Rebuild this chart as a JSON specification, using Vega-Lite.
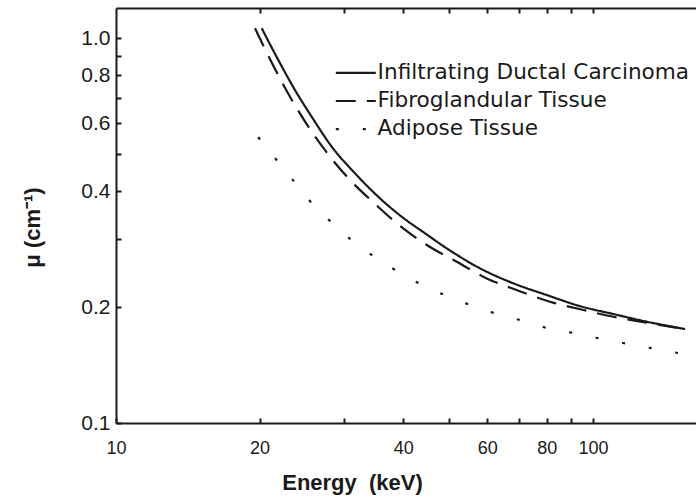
{
  "$schema": "https://vega.github.io/schema/vega-lite/v6.json",
  "width": 580,
  "height": 415,
  "autosize": "none",
  "padding": {"left": 116, "top": 8, "right": 0, "bottom": 74},
  "background": "white",
  "config": {"view": {"stroke": null}, "font": "Liberation Sans"},
  "data": {
    "values": [
      {"tissue": "Infiltrating Ductal Carcinoma", "energy": 20.21, "mu": 1.06},
      {"tissue": "Infiltrating Ductal Carcinoma", "energy": 21.89, "mu": 0.877},
      {"tissue": "Infiltrating Ductal Carcinoma", "energy": 23.73, "mu": 0.7325},
      {"tissue": "Infiltrating Ductal Carcinoma", "energy": 25.72, "mu": 0.6245},
      {"tissue": "Infiltrating Ductal Carcinoma", "energy": 28.33, "mu": 0.5222},
      {"tissue": "Infiltrating Ductal Carcinoma", "energy": 31.7, "mu": 0.4452},
      {"tissue": "Infiltrating Ductal Carcinoma", "energy": 35.46, "mu": 0.3871},
      {"tissue": "Infiltrating Ductal Carcinoma", "energy": 39.72, "mu": 0.3434},
      {"tissue": "Infiltrating Ductal Carcinoma", "energy": 44.45, "mu": 0.311},
      {"tissue": "Infiltrating Ductal Carcinoma", "energy": 49.35, "mu": 0.2843},
      {"tissue": "Infiltrating Ductal Carcinoma", "energy": 57.96, "mu": 0.2522},
      {"tissue": "Infiltrating Ductal Carcinoma", "energy": 68.07, "mu": 0.2306},
      {"tissue": "Infiltrating Ductal Carcinoma", "energy": 79.97, "mu": 0.215},
      {"tissue": "Infiltrating Ductal Carcinoma", "energy": 93.9, "mu": 0.2012},
      {"tissue": "Infiltrating Ductal Carcinoma", "energy": 110.3, "mu": 0.1919},
      {"tissue": "Infiltrating Ductal Carcinoma", "energy": 129.6, "mu": 0.1833},
      {"tissue": "Infiltrating Ductal Carcinoma", "energy": 155.9, "mu": 0.1754},
      {"tissue": "Fibroglandular Tissue", "energy": 19.56, "mu": 1.06},
      {"tissue": "Fibroglandular Tissue", "energy": 21.37, "mu": 0.8474},
      {"tissue": "Fibroglandular Tissue", "energy": 23.16, "mu": 0.7037},
      {"tissue": "Fibroglandular Tissue", "energy": 25.18, "mu": 0.5943},
      {"tissue": "Fibroglandular Tissue", "energy": 27.65, "mu": 0.5047},
      {"tissue": "Fibroglandular Tissue", "energy": 30.8, "mu": 0.4304},
      {"tissue": "Fibroglandular Tissue", "energy": 34.62, "mu": 0.3743},
      {"tissue": "Fibroglandular Tissue", "energy": 39.2, "mu": 0.3268},
      {"tissue": "Fibroglandular Tissue", "energy": 44.82, "mu": 0.29},
      {"tissue": "Fibroglandular Tissue", "energy": 51.8, "mu": 0.2624},
      {"tissue": "Fibroglandular Tissue", "energy": 59.86, "mu": 0.2375},
      {"tissue": "Fibroglandular Tissue", "energy": 69.18, "mu": 0.2215},
      {"tissue": "Fibroglandular Tissue", "energy": 81.27, "mu": 0.2066},
      {"tissue": "Fibroglandular Tissue", "energy": 95.43, "mu": 0.1966},
      {"tissue": "Fibroglandular Tissue", "energy": 110.3, "mu": 0.1888},
      {"tissue": "Fibroglandular Tissue", "energy": 131.7, "mu": 0.1816},
      {"tissue": "Fibroglandular Tissue", "energy": 152.2, "mu": 0.1762},
      {"tissue": "Adipose Tissue", "energy": 19.86, "mu": 0.553},
      {"tissue": "Adipose Tissue", "energy": 21.54, "mu": 0.488},
      {"tissue": "Adipose Tissue", "energy": 23.4, "mu": 0.43},
      {"tissue": "Adipose Tissue", "energy": 25.39, "mu": 0.3795},
      {"tissue": "Adipose Tissue", "energy": 27.8, "mu": 0.339},
      {"tissue": "Adipose Tissue", "energy": 30.64, "mu": 0.304},
      {"tissue": "Adipose Tissue", "energy": 34.1, "mu": 0.275},
      {"tissue": "Adipose Tissue", "energy": 37.89, "mu": 0.2527},
      {"tissue": "Adipose Tissue", "energy": 42.6, "mu": 0.2325},
      {"tissue": "Adipose Tissue", "energy": 47.77, "mu": 0.2176},
      {"tissue": "Adipose Tissue", "energy": 53.9, "mu": 0.205},
      {"tissue": "Adipose Tissue", "energy": 61.1, "mu": 0.1942},
      {"tissue": "Adipose Tissue", "energy": 69.3, "mu": 0.186},
      {"tissue": "Adipose Tissue", "energy": 78.6, "mu": 0.1776},
      {"tissue": "Adipose Tissue", "energy": 89.5, "mu": 0.172},
      {"tissue": "Adipose Tissue", "energy": 102.0, "mu": 0.1663},
      {"tissue": "Adipose Tissue", "energy": 115.6, "mu": 0.1614},
      {"tissue": "Adipose Tissue", "energy": 132.3, "mu": 0.1566},
      {"tissue": "Adipose Tissue", "energy": 150.7, "mu": 0.152}
    ]
  },
  "layer": [
    {
      "mark": {"type": "line", "strokeWidth": 2.2, "color": "#1a1a1a", "clip": true, "interpolate": "monotone"},
      "encoding": {
        "x": {
          "field": "energy", "type": "quantitative",
          "scale": {"type": "log", "domain": [10, 164.4], "nice": false},
          "axis": {
            "orient": "bottom",
            "values": [10, 20, 30, 40, 50, 60, 70, 80, 90, 100],
            "labelExpr": "indexof([10,20,40,60,80,100], datum.value) >= 0 ? datum.label : ''",
            "grid": false,
            "domainColor": "#1a1a1a", "domainWidth": 2,
            "tickColor": "#1a1a1a", "tickWidth": 2,
            "tickSize": -5,
            "labelFontSize": 18, "labelColor": "#1a1a1a", "labelPadding": 21,
            "labelFlush": false,
            "title": "Energy\u00a0\u00a0(keV)", "titleFontSize": 22, "titleFontWeight": "bold", "titleColor": "#1a1a1a",
            "titleX": 236, "titleY": 49, "titleBaseline": "top", "titleAlign": "center"
          }
        },
        "y": {
          "field": "mu", "type": "quantitative",
          "scale": {"type": "log", "domain": [0.1, 1.197], "nice": false},
          "axis": {
            "orient": "left",
            "values": [0.1, 0.2, 0.3, 0.4, 0.5, 0.6, 0.7, 0.8, 0.9, 1.0],
            "format": ".1f",
            "labelExpr": "indexof([0.1,0.2,0.4,0.6,0.8,1.0], datum.value) >= 0 ? datum.label : ''",
            "grid": false,
            "domainColor": "#1a1a1a", "domainWidth": 2,
            "tickColor": "#1a1a1a", "tickWidth": 2,
            "tickSize": -5,
            "labelFontSize": 21, "labelColor": "#1a1a1a", "labelPadding": 11,
            "labelFlush": false,
            "title": "μ (cm⁻¹)", "titleFontSize": 22, "titleFontWeight": "bold", "titleColor": "#1a1a1a",
            "titleX": -84, "titleY": 219, "titleBaseline": "middle", "titleAlign": "center", "titleAngle": 270
          }
        },
        "strokeDash": {
          "field": "tissue", "type": "nominal",
          "scale": {
            "domain": ["Infiltrating Ductal Carcinoma", "Fibroglandular Tissue", "Adipose Tissue"],
            "range": [[1, 0], [20, 11], [3, 24]]
          },
          "legend": {
            "orient": "none", "legendX": 229, "legendY": 54, "title": null,
            "symbolType": "M-4,0H4", "symbolSize": 100, "symbolStrokeWidth": 2.2,
            "symbolStrokeColor": "#1a1a1a",
            "labelFontSize": 21.6, "labelFont": "DejaVu Sans", "labelColor": "#1a1a1a",
            "labelLimit": 500, "labelOffset": 11, "rowPadding": 5.2, "padding": 0
          }
        }
      }
    },
    {
      "mark": {"type": "line", "opacity": 0},
      "encoding": {
        "x": {
          "field": "energy", "type": "quantitative",
          "axis": {
            "orient": "top", "labels": false, "title": null, "grid": false,
            "values": [20, 30, 40, 50, 60, 70, 80, 90, 100],
            "domainColor": "#1a1a1a", "domainWidth": 2,
            "tickColor": "#1a1a1a", "tickWidth": 2,
            "tickSize": -5
          }
        },
        "y": {"field": "mu", "type": "quantitative", "axis": null}
      }
    }
  ],
  "resolve": {"axis": {"x": "independent", "y": "independent"}}
}
